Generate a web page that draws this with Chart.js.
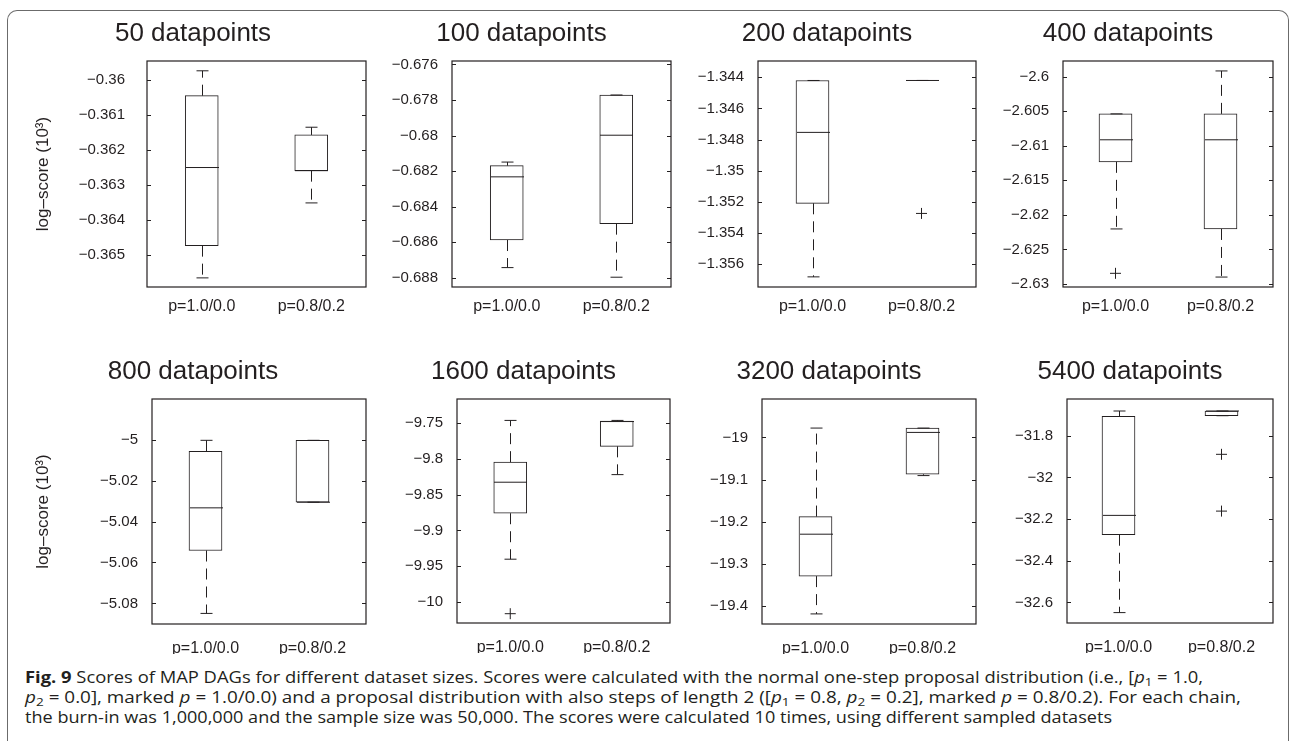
<!DOCTYPE html>
<html>
<head>
<meta charset="utf-8">
<script src="https://cdn.jsdelivr.net/npm/chart.js@4"></script>
<style>
  html, body { margin: 0; padding: 0; background: #fff; }
  body { width: 1291px; height: 752px; position: relative; overflow: hidden; }
  .frame { position: absolute; left: 7px; top: 10px; width: 1282px; height: 731px; border: 1.5px solid #6b6b6b; border-bottom: none; border-radius: 10px 10px 0 0; box-sizing: border-box; }
  canvas.panel { position: absolute; }
  .caption { position: absolute; left: 25px; top: 667px; font-family: "Open Sans", sans-serif; font-size: 15.5px; color: #231f20; line-height: 20px; }
  .caption div { white-space: nowrap; width: max-content; transform-origin: 0 50%; }
  .caption sub { font-size: 0.72em; vertical-align: -0.25em; line-height: 0; }
</style>
</head>
<body>
<div class="frame"></div>
<div class="caption" id="caption">
  <div><b>Fig. 9</b> Scores of MAP DAGs for different dataset sizes. Scores were calculated with the normal one-step proposal distribution (i.e., [<i>p</i><sub>1</sub> = 1.0,</div>
  <div><i>p</i><sub>2</sub> = 0.0], marked <i>p</i> = 1.0/0.0) and a proposal distribution with also steps of length 2 ([<i>p</i><sub>1</sub> = 0.8, <i>p</i><sub>2</sub> = 0.2], marked <i>p</i> = 0.8/0.2). For each chain,</div>
  <div>the burn-in was 1,000,000 and the sample size was 50,000. The scores were calculated 10 times, using different sampled datasets</div>
</div>
<script>
// ---- data (log-score, 10^3) ----
const panelTitles = ['50 datapoints', '100 datapoints', '200 datapoints', '400 datapoints',
                     '800 datapoints', '1600 datapoints', '3200 datapoints', '5400 datapoints'];
const groups = ['p=1.0/0.0', 'p=0.8/0.2'];
const yLabel = 'log\u2013score (10\u00B3)';

// one pair per panel: [p=1.0/0.0, p=0.8/0.2]
const whiskerLow = [
  [-0.36565, -0.36351], [-0.68742, -0.68796], [-1.35681, -1.34421], [-2.62203, -2.62899],
  [-5.08488, -5.03057], [-9.9402, -9.8221], [-19.4181, -19.0903], [-32.649, -31.704]
];
const quart1 = [
  [-0.36473, -0.36259], [-0.68587, -0.68495], [-1.35209, -1.34421], [-2.61232, -2.62203],
  [-5.05415, -5.03057], [-9.876, -9.7826], [-19.3285, -19.0872], [-32.2752, -31.704]
];
const medians = [
  [-0.3625, -0.36259], [-0.68232, -0.67998], [-1.34754, -1.34421], [-2.60913, -2.60913],
  [-5.03332, -5.03057], [-9.8327, -9.748], [-19.2292, -18.988], [-32.1824, -31.6814]
];
const quart3 = [
  [-0.36045, -0.36157], [-0.68169, -0.67772], [-1.34421, -1.34421], [-2.60538, -2.60538],
  [-5.0057, -5.00033], [-9.8047, -9.7475], [-19.1874, -18.9777], [-31.707, -31.6814]
];
const whiskerHigh = [
  [-0.35974, -0.36135], [-0.68149, -0.67772], [-1.34421, -1.34421], [-2.60538, -2.59917],
  [-5.00033, -5.00033], [-9.7464, -9.7464], [-18.9777, -18.9777], [-31.6814, -31.6814]
];
const outliers = [
  [[], []], [[], []], [[], [-1.35274]], [[-2.62845], []],
  [[], []], [[-10.0163], []], [[], []], [[], [-31.8893, -32.1618]]
];

const yMin = [-0.36591, -0.68851, -1.35746, -2.63043, -5.09005, -10.0293, -19.442, -32.6989];
const yMax = [-0.35946, -0.67581, -1.34296, -2.59773, -4.98015, -9.7165, -18.9088, -31.6238];
const yTicks = [
  [-0.365, -0.364, -0.363, -0.362, -0.361, -0.36],
  [-0.688, -0.686, -0.684, -0.682, -0.68, -0.678, -0.676],
  [-1.356, -1.354, -1.352, -1.35, -1.348, -1.346, -1.344],
  [-2.63, -2.625, -2.62, -2.615, -2.61, -2.605, -2.6],
  [-5.08, -5.06, -5.04, -5.02, -5],
  [-10, -9.95, -9.9, -9.85, -9.8, -9.75],
  [-19.4, -19.3, -19.2, -19.1, -19],
  [-32.6, -32.4, -32.2, -32, -31.8]
];

// ---- layout ----
// plot area of each panel on the page: [left, top, right, bottom]
const plotBoxes = [
  [147, 61, 366, 287], [452, 61, 671, 287], [758, 61, 976, 287], [1063, 61, 1273, 287],
  [152, 399, 366, 624], [457, 399, 670, 623], [762, 399, 976, 624], [1067, 399, 1273, 623]
];
const INK = '#231f20';
const FONT = "'Liberation Sans', Arial, sans-serif";
const TITLE_H = 44, AXIS_H = 30;

function seg(ctx, x1, y1, x2, y2) {
  ctx.beginPath();
  ctx.moveTo(x1, y1);
  ctx.lineTo(x2, y2);
  ctx.stroke();
}

// whiskers, caps, medians, frame and inward ticks (matlab style)
const boxPlotPlugin = {
  id: 'boxPlot',
  afterDatasetsDraw(chart) {
    const p = chart.options.plugins.boxPlot.panel;
    const { ctx, chartArea: a, scales: { x, y } } = chart;
    const bars = chart.getDatasetMeta(0).data;
    ctx.save();
    ctx.strokeStyle = INK;
    ctx.lineWidth = 1;
    groups.forEach((g, i) => {
      const cx = Math.round(x.getPixelForValue(i)) + 0.5;
      const half = bars[i].width / 2;
      const yLo = y.getPixelForValue(whiskerLow[p][i]);
      const yQ1 = y.getPixelForValue(quart1[p][i]);
      const yMed = y.getPixelForValue(medians[p][i]);
      const yQ3 = y.getPixelForValue(quart3[p][i]);
      const yHi = y.getPixelForValue(whiskerHigh[p][i]);
      ctx.setLineDash([11, 7]);
      if (yHi < yQ3) seg(ctx, cx, yQ3, cx, yHi);
      if (yLo > yQ1) seg(ctx, cx, yQ1, cx, yLo);
      ctx.setLineDash([]);
      seg(ctx, cx - 6, yHi, cx + 6, yHi);
      seg(ctx, cx - 6, yLo, cx + 6, yLo);
      seg(ctx, cx - half, yMed, cx + half, yMed);
    });
    ctx.lineWidth = 1.2;
    ctx.strokeRect(a.left, a.top, a.right - a.left, a.bottom - a.top);
    ctx.lineWidth = 1;
    y.ticks.forEach(t => {
      const ty = Math.round(y.getPixelForValue(t.value)) + 0.5;
      seg(ctx, a.left, ty, a.left + 4, ty);
      seg(ctx, a.right - 4, ty, a.right, ty);
    });
    ctx.restore();
  }
};

plotBoxes.forEach((b, p) => {
  const [l, t, r, bt] = b;
  const firstCol = p % 4 === 0;
  const side = firstCol ? l - 20 : 80;
  const cv = document.createElement('canvas');
  cv.className = 'panel';
  cv.width = (r - l) + 2 * side;
  cv.height = TITLE_H + (bt - t) + AXIS_H;
  cv.style.left = (l - side) + 'px';
  cv.style.top = (t - TITLE_H) + 'px';
  document.body.appendChild(cv);

  new Chart(cv, {
    type: 'bar',
    data: {
      labels: groups,
      datasets: [
        {
          data: groups.map((g, i) => [quart1[p][i], quart3[p][i]]),
          backgroundColor: '#ffffff',
          borderColor: INK,
          borderWidth: 1,
          borderSkipped: false,
          barThickness: 33
        },
        {
          type: 'line',
          data: outliers[p].flatMap((vals, i) => vals.map(v => ({ x: groups[i], y: v }))),
          showLine: false,
          pointStyle: 'cross',
          pointRadius: 5.5,
          pointBorderColor: INK,
          pointBorderWidth: 1
        }
      ]
    },
    options: {
      responsive: false,
      animation: false,
      events: [],
      layout: { padding: { left: 0, right: side, top: 0, bottom: 0 } },
      plugins: {
        legend: { display: false },
        tooltip: { enabled: false },
        title: {
          display: true,
          text: panelTitles[p],
          color: INK,
          font: { family: FONT, size: 26, weight: 'normal' },
          padding: { top: 1.4, bottom: 11.4 }
        },
        boxPlot: { panel: p }
      },
      scales: {
        x: {
          offset: true,
          grid: { display: false },
          border: { display: false },
          afterFit: s => { s.height = AXIS_H; },
          ticks: { color: INK, font: { family: FONT, size: 16 }, padding: p < 4 ? 1.5 : 7 }
        },
        y: {
          min: yMin[p],
          max: yMax[p],
          grid: { display: false },
          border: { display: false },
          afterBuildTicks: s => { s.ticks = yTicks[p].map(v => ({ value: v })); },
          afterFit: s => { s.width = side; },
          ticks: {
            color: INK,
            font: { family: FONT, size: 15 },
            padding: p === 0 ? 14 : 6,
            callback: v => String(v).replace('-', '\u2212')
          },
          title: {
            display: firstCol,
            text: yLabel,
            color: INK,
            font: { family: FONT, size: 17 },
            padding: { top: 12.8, bottom: 0 }
          }
        }
      }
    },
    plugins: [boxPlotPlugin]
  });
});

// stretch caption lines to the widths in the original print
const captionWidths = [1178, 1216, 1087];
document.fonts.ready.then(() => {
  document.querySelectorAll('#caption div').forEach((d, i) => {
    const w = d.getBoundingClientRect().width;
    d.style.transform = 'scaleX(' + (captionWidths[i] / w).toFixed(4) + ')';
  });
});
</script>
</body>
</html>
